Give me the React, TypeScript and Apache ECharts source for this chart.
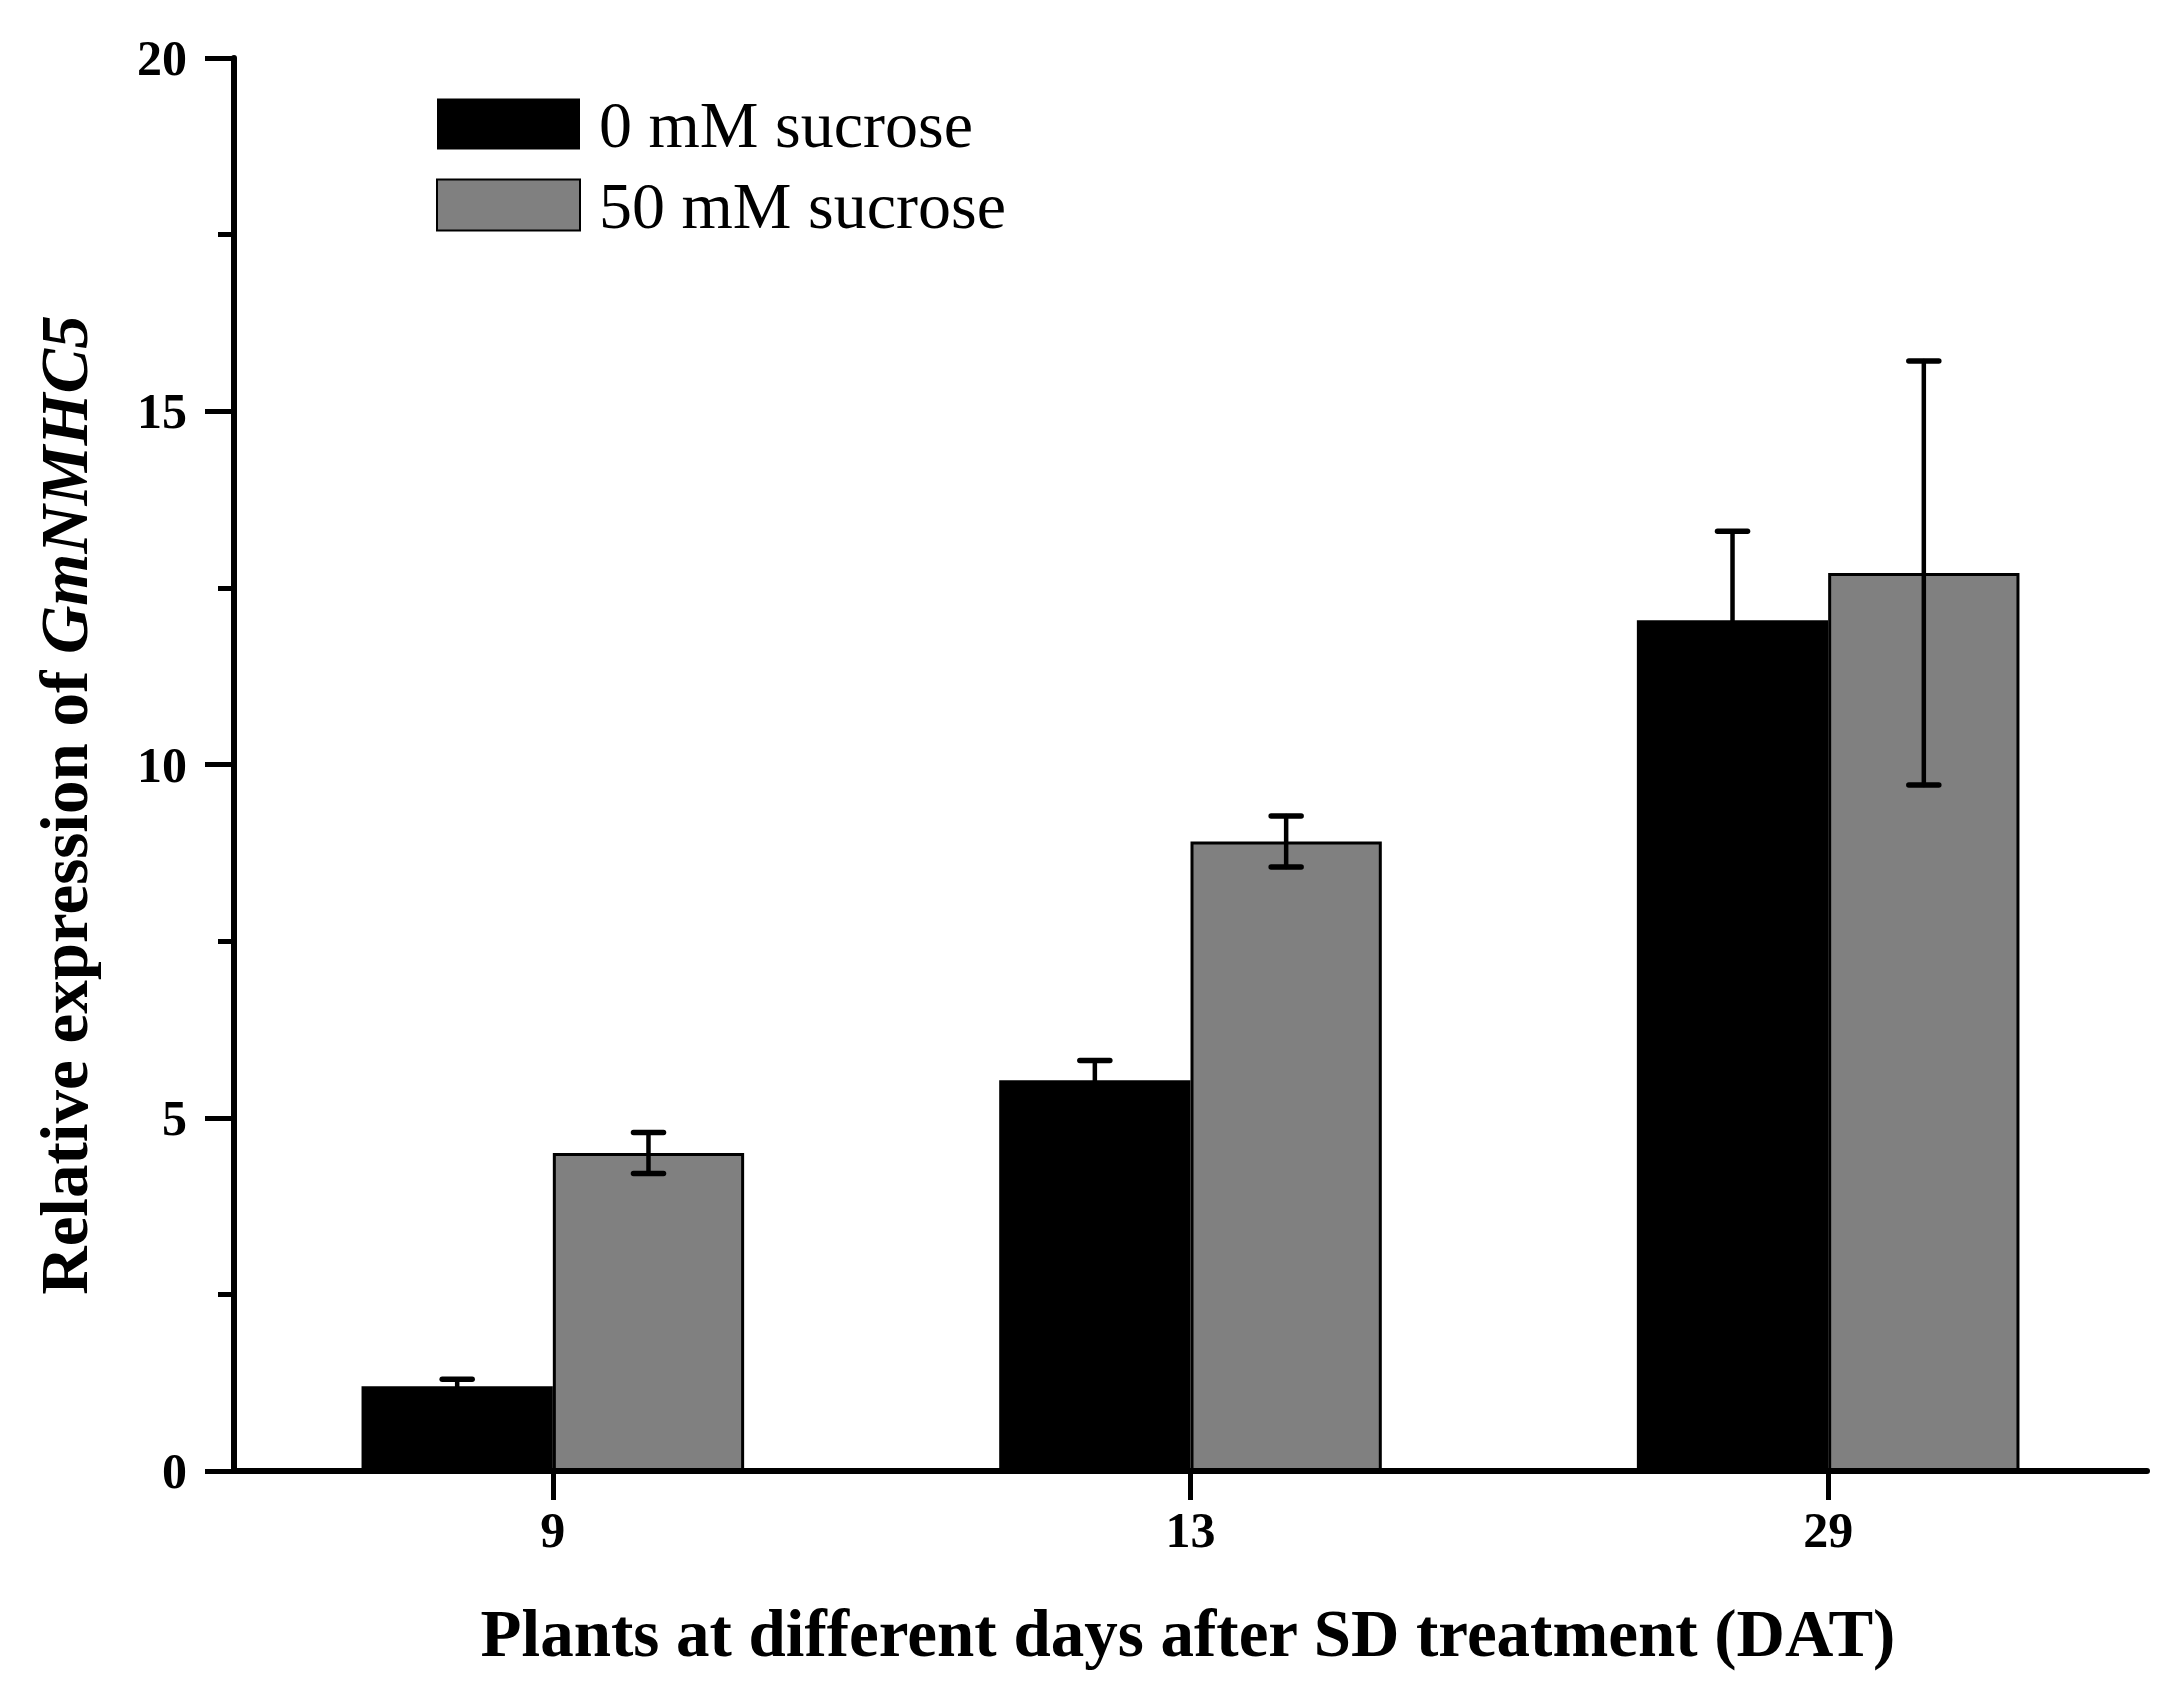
import React, { useEffect, useRef } from "react";
import * as echarts from "echarts";

const categories = ["9", "13", "29"];
const seriesNames = ["0 mM sucrose", "50 mM sucrose"];
const mean0 = [1.2, 5.53, 12.04];
const sd0 = [0.1, 0.28, 1.26];
const mean50 = [4.5, 8.91, 12.71];
const sd50 = [0.29, 0.36, 3.0];
const yTicks = { min: 0, max: 20, interval: 5 };
const xTitle = "Plants at different days after SD treatment (DAT)";
const yTitlePlain = "Relative expression of ";
const yTitleItalic = "GmNMHC5";

const FONT = '"Liberation Serif", "Times New Roman", Times, serif';
const BAR_FRAC = 0.3;

function errorSeries(means: number[], sds: number[], sign: number) {
  return {
    type: "custom",
    z: 5,
    silent: true,
    data: means.map((m, i) => [i, m, sds[i]]),
    encode: { x: 0, y: 1 },
    renderItem: (params: any, api: any) => {
      const idx = api.value(0);
      const m = api.value(1);
      const s = api.value(2);
      const band = api.size([1, 0])[0];
      const off = (sign * band * BAR_FRAC) / 2;
      const top = api.coord([idx, m + s]);
      const bot = api.coord([idx, m - s]);
      const x = top[0] + off;
      const hw = 15;
      const st = { stroke: "#000", lineWidth: 4.5, lineCap: "round" };
      const cap = { stroke: "#000", lineWidth: 5.5, lineCap: "round" };
      return {
        type: "group",
        children: [
          { type: "line", shape: { x1: x, y1: top[1], x2: x, y2: bot[1] }, style: st },
          { type: "line", shape: { x1: x - hw, y1: top[1], x2: x + hw, y2: top[1] }, style: cap },
          { type: "line", shape: { x1: x - hw, y1: bot[1], x2: x + hw, y2: bot[1] }, style: cap },
        ],
      };
    },
  };
}

export default function App() {
  const ref = useRef<HTMLDivElement>(null);
  useEffect(() => {
    if (!ref.current) return;
    const chart = echarts.init(ref.current, null, { renderer: "svg" });
    chart.setOption({
      animation: false,
      backgroundColor: "#ffffff",
      grid: {
        left: 234,
        right: 35,
        top: 58,
        bottom: 210,
        containLabel: false,
        outerBoundsMode: "none",
      },
      legend: {
        data: seriesNames,
        orient: "vertical",
        left: 436,
        top: 91,
        padding: 0,
        icon: "rect",
        itemWidth: 143,
        itemHeight: 51,
        itemGap: 15,
        selectedMode: false,
        textStyle: {
          fontFamily: FONT,
          fontSize: 66,
          color: "#000",
          lineHeight: 51,
          padding: [0, 0, 0, 14],
        },
      },
      xAxis: {
        type: "category",
        data: categories,
        axisLine: { show: true, lineStyle: { color: "#000", width: 6 } },
        axisTick: { show: true, alignWithLabel: true, length: 29, lineStyle: { color: "#000", width: 5 } },
        axisLabel: {
          margin: 34,
          fontFamily: FONT,
          fontSize: 50,
          fontWeight: "bold",
          color: "#000",
          lineHeight: 50,
        },
        splitLine: { show: false },
      },
      yAxis: {
        type: "value",
        min: yTicks.min,
        max: yTicks.max,
        interval: yTicks.interval,
        axisLine: { show: true, lineStyle: { color: "#000", width: 6 } },
        axisTick: { show: true, length: 29, lineStyle: { color: "#000", width: 5 } },
        minorTick: { show: true, splitNumber: 2, length: 16, lineStyle: { color: "#000", width: 5 } },
        axisLabel: {
          margin: 47,
          fontFamily: FONT,
          fontSize: 50,
          fontWeight: "bold",
          color: "#000",
          lineHeight: 50,
        },
        splitLine: { show: false },
        minorSplitLine: { show: false },
      },
      graphic: [
        {
          type: "text",
          x: 1188,
          y: 1633,
          style: {
            text: xTitle,
            fontFamily: FONT,
            fontSize: 67,
            fontWeight: "bold",
            fill: "#000",
            align: "center",
            verticalAlign: "middle",
          },
        },
        {
          type: "text",
          x: 64,
          y: 805,
          rotation: Math.PI / 2,
          style: {
            text: "{n|" + yTitlePlain + "}{i|" + yTitleItalic + "}",
            fontFamily: FONT,
            fontSize: 67,
            fontWeight: "bold",
            fill: "#000",
            align: "center",
            verticalAlign: "middle",
            rich: {
              n: { fontFamily: FONT, fontSize: 67, fontWeight: "bold", fill: "#000" },
              i: { fontFamily: FONT, fontSize: 67, fontWeight: "bold", fontStyle: "italic", fill: "#000" },
            },
          },
        },
      ],
      series: [
        {
          name: seriesNames[0],
          type: "bar",
          data: mean0,
          barWidth: "30%",
          barGap: "0%",
          itemStyle: { color: "#000000", borderColor: "#000", borderWidth: 0 },
        },
        {
          name: seriesNames[1],
          type: "bar",
          data: mean50,
          barWidth: "30%",
          barGap: "0%",
          itemStyle: { color: "#808080", borderColor: "#000", borderWidth: 3 },
        },
        errorSeries(mean0, sd0, -1),
        errorSeries(mean50, sd50, 1),
      ],
    });
    return () => chart.dispose();
  }, []);
  return (
    <div
      ref={ref}
      style={{ position: "fixed", left: 0, top: 0, width: 2182, height: 1681, background: "#fff" }}
    />
  );
}
